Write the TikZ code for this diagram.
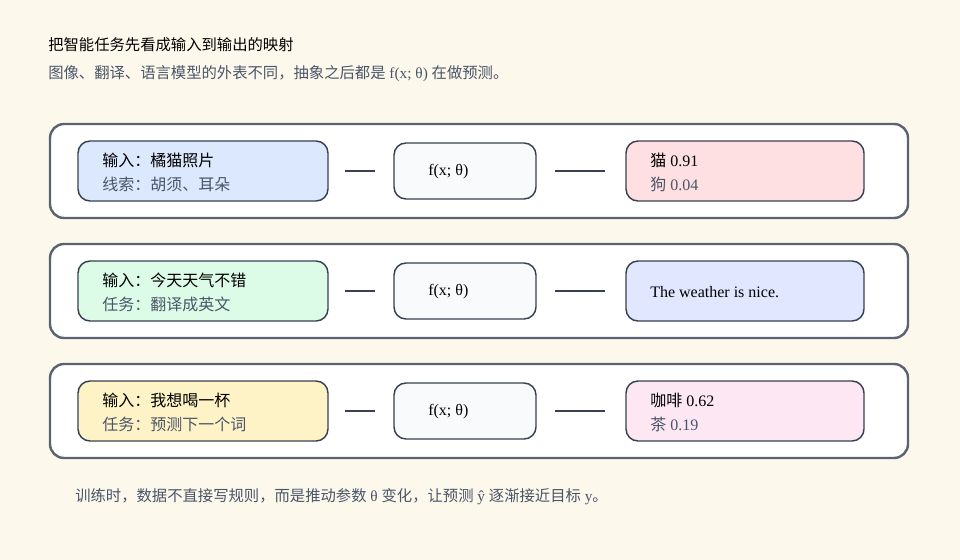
\documentclass[tikz,border=0pt]{standalone}
\usepackage{fontspec}
\setmainfont{Liberation Serif}
\newfontfamily\cjk{Noto Sans CJK SC}
\definecolor{bg}{HTML}{FDF8EC}
\definecolor{outerb}{HTML}{5B6270}
\definecolor{innerb}{HTML}{374151}
\definecolor{sub}{HTML}{4A5568}
\definecolor{cblue}{HTML}{DBE8FD}
\definecolor{cgreen}{HTML}{DCFCE7}
\definecolor{cyellow}{HTML}{FEF3C7}
\definecolor{cpink}{HTML}{FEE0E2}
\definecolor{clav}{HTML}{E0E7FF}
\definecolor{cpink2}{HTML}{FCE7F3}
\definecolor{cmid}{HTML}{F8FAFC}
\begin{document}
\begin{tikzpicture}[x=0.75pt,y=-0.75pt,
  outer/.style={draw=outerb,line width=1.8pt,fill=white,rounded corners=10.5pt},
  box/.style={draw=innerb,line width=1.1pt,rounded corners=9pt},
  conn/.style={draw=innerb,line width=1.9pt},
  txt/.style={anchor=west,inner sep=0pt,font=\fontsize{12}{14}\selectfont},
  txt2/.style={txt,text=sub}]
\fill[bg] (0,0) rectangle (960,560);
\useasboundingbox (0,0) rectangle (960,560);
\node[anchor=west,inner sep=0pt,font=\fontsize{11.5}{14}\selectfont\cjk] (title) at (48,45) {把智能任务先看成输入到输出的映射};
\node[anchor=west,inner sep=0pt,text=sub,font=\fontsize{11.5}{14}\selectfont] (subt) at (48,74) {{\cjk 图像、翻译、语言模型的外表不同，抽象之后都是} f(x; θ) {\cjk 在做预测。}};
\foreach \i/\y/\lc/\rc in {1/124/cblue/cpink,2/244/cgreen/clav,3/364/cyellow/cpink2}{
  \draw[outer] (50,\y) rectangle (908,\y+94);
  \draw[box,fill=\lc] (78,\y+17) rectangle (328,\y+77);
  \draw[box,fill=cmid] (394,\y+19) rectangle (536,\y+75);
  \draw[box,fill=\rc] (626,\y+17) rectangle (864,\y+77);
  \coordinate (l\i a) at (345,\y+47); \coordinate (l\i b) at (375,\y+47);
  \coordinate (r\i a) at (555,\y+47); \coordinate (r\i b) at (605,\y+47);
  \draw[conn] (l\i a) -- (l\i b);
  \draw[conn] (r\i a) -- (r\i b);
  \node[txt] (f\i) at (428,\y+48) {f(x; θ)};
}
\node[txt] (a1) at (102,160) {\cjk 输入：橘猫照片};
\node[txt2] (b1) at (102,184) {\cjk 线索：胡须、耳朵};
\node[txt] (c1) at (650,160) {{\cjk 猫} 0.91};
\node[txt2] (d1) at (650,184) {{\cjk 狗} 0.04};
\node[txt] (a2) at (102,280) {\cjk 输入：今天天气不错};
\node[txt2] (b2) at (102,304) {\cjk 任务：翻译成英文};
\node[txt] (c2) at (650,292) {The weather is nice.};
\node[txt] (a3) at (102,400) {\cjk 输入：我想喝一杯};
\node[txt2] (b3) at (102,424) {\cjk 任务：预测下一个词};
\node[txt] (c3) at (650,400) {{\cjk 咖啡} 0.62};
\node[txt2] (d3) at (650,424) {{\cjk 茶} 0.19};
\node[anchor=west,inner sep=0pt,text=sub,font=\fontsize{11.5}{14}\selectfont] (foot) at (75,497) {{\cjk 训练时，数据不直接写规则，而是推动参数} θ {\cjk 变化，让预测} ŷ {\cjk 逐渐接近目标} y{\cjk 。}};
\end{tikzpicture}
\end{document}
